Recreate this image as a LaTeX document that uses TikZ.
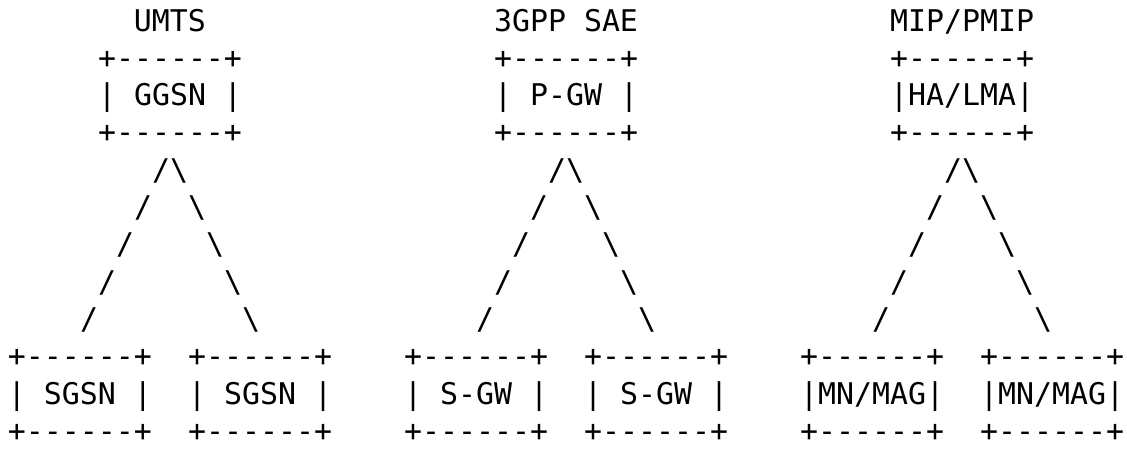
\documentclass[tikz,border=0pt]{standalone}
\usepackage{fontspec}
\setmonofont{DejaVu Sans Mono}
\usetikzlibrary{positioning}
\newcommand\asciifont{\ttfamily\fontsize{29.9pt}{36pt}\selectfont}

\begin{document}
\begin{tikzpicture}[
            x=18pt, y=-37.3pt,
            every node/.style={inner sep=0pt, outer sep=0pt, anchor=base west, font=\asciifont},
            title/.style={anchor=base},
            rule/.style={text depth=0pt}
  ]

  \useasboundingbox (0pt,0pt) rectangle (1127pt,-448pt);

  \begin{scope}[shift={(8pt,-31pt)}]
  \foreach \o/\g/\name/\head/\leaf in {0/umts/UMTS/{| GGSN |}/{| SGSN |},
                                       22/sae/3GPP SAE/{| P-GW |}/{| S-GW |},
                                       44/mip/{MIP/PMIP}/{|HA/LMA|}/{|MN/MAG|}} {
    \node[title] (\g-title) at (\o+9,0) {\name};

    % top box
    \node[rule] (\g-head-up) at (\o+5,1) {+------+};
    \node (\g-head) at (\o+5,2) {\head};
    \node[rule] (\g-head-down) at (\o+5,3) {+------+};

    % branches
    \foreach \k in {0,...,4} {
      \node (\g-left\k) at (\o+8-\k,4+\k) {/};
      \node (\g-right\k) at (\o+9+\k,4+\k) {\textbackslash};
    }

    % bottom boxes
    \node[rule] (\g-leafa-up) at (\o,9) {+------+};
    \node (\g-leafa) at (\o,10) {\leaf};
    \node[rule] (\g-leafa-down) at (\o,11) {+------+};
    \node[rule] (\g-leafb-up) at (\o+10,9) {+------+};
    \node (\g-leafb) at (\o+10,10) {\leaf};
    \node[rule] (\g-leafb-down) at (\o+10,11) {+------+};
  }
  \end{scope}

\end{tikzpicture}
\end{document}
